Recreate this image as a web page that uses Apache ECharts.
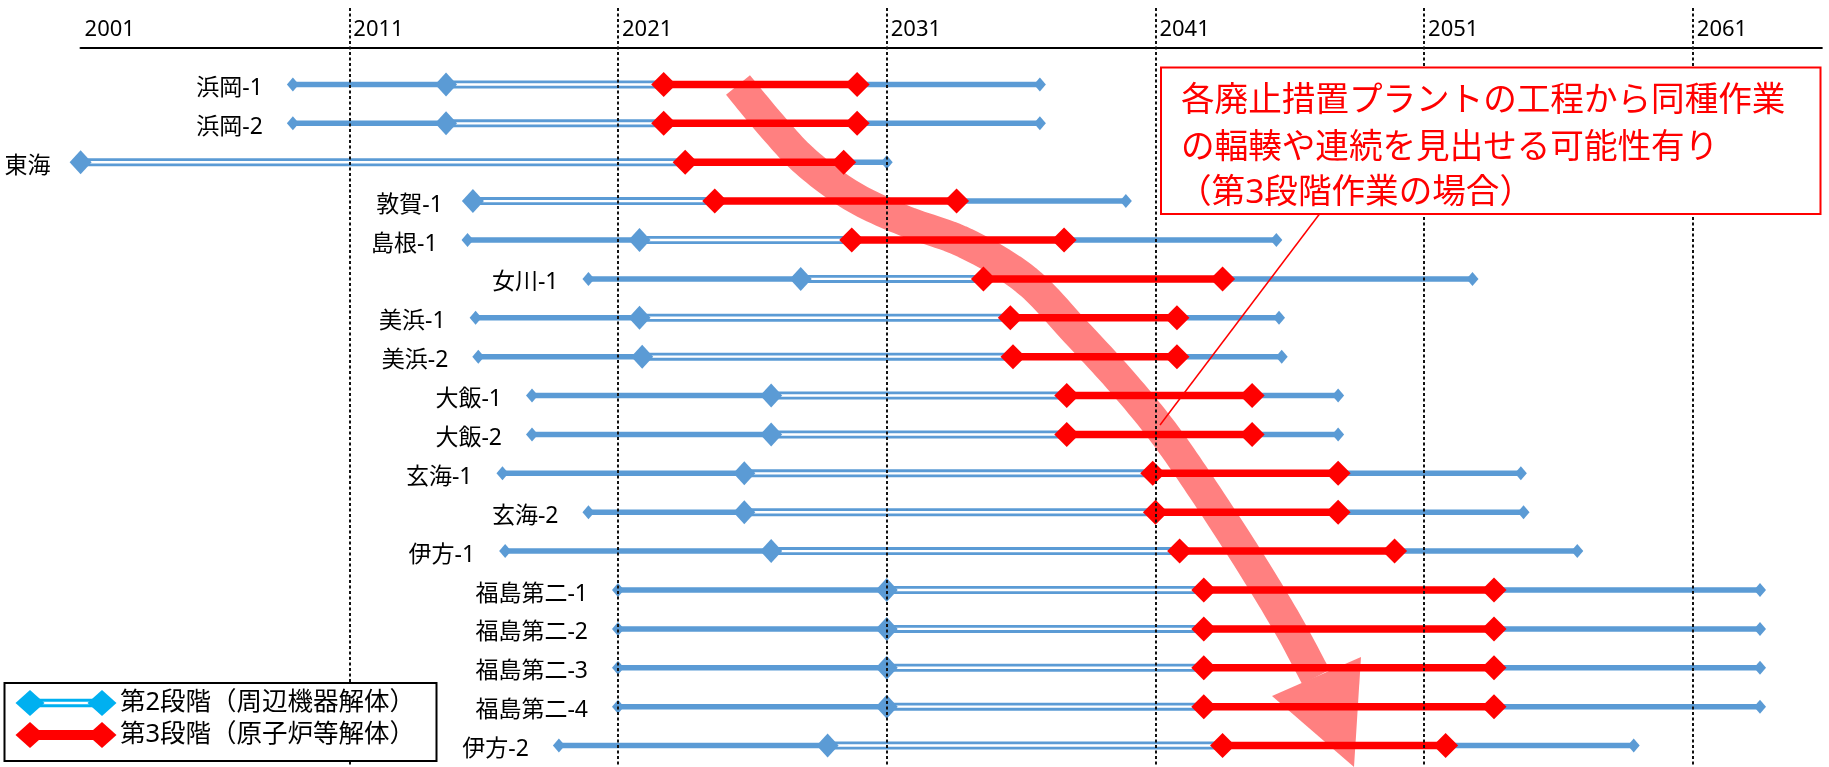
<!DOCTYPE html>
<html>
<head>
<meta charset="utf-8">
<script src="https://cdn.jsdelivr.net/npm/echarts@6/dist/echarts.min.js"></script>
<style>
html, body { margin: 0; padding: 0; background: #fff; }
#chart { width: 1829px; height: 767px; }
</style>
</head>
<body>
<div id="chart"></div>
<script>
// ---- data (years) ----
const plants = ['浜岡-1', '浜岡-2', '東海', '敦賀-1', '島根-1', '女川-1', '美浜-1', '美浜-2', '大飯-1', '大飯-2',
  '玄海-1', '玄海-2', '伊方-1', '福島第二-1', '福島第二-2', '福島第二-3', '福島第二-4', '伊方-2'];
const startYear   = [2008.9, 2008.9, null, null, 2015.4, 2019.9, 2015.7, 2015.8, 2017.8, 2017.8,
  2016.7, 2019.9, 2016.8, 2021.0, 2021.0, 2021.0, 2021.0, 2018.8];
const stage2Start = [2014.6, 2014.6, 2001.0, 2015.6, 2021.8, 2027.8, 2021.8, 2021.9, 2026.7, 2026.7,
  2025.7, 2025.7, 2026.7, 2031.0, 2031.0, 2031.0, 2031.0, 2028.8];
const stage3Start = [2022.7, 2022.7, 2023.5, 2024.6, 2029.7, 2034.6, 2035.6, 2035.7, 2037.7, 2037.7,
  2040.9, 2041.0, 2041.9, 2042.8, 2042.8, 2042.8, 2042.8, 2043.5];
const stage3End   = [2029.9, 2029.9, 2029.4, 2033.6, 2037.6, 2043.5, 2041.8, 2041.8, 2044.6, 2044.6,
  2047.8, 2047.8, 2049.9, 2053.6, 2053.6, 2053.6, 2053.6, 2051.8];
const endYear     = [2036.7, 2036.7, 2031.0, 2039.9, 2045.5, 2052.8, 2045.6, 2045.7, 2047.8, 2047.8,
  2054.6, 2054.7, 2056.7, 2063.5, 2063.5, 2063.5, 2063.5, 2058.8];
const yearTicks = [2001, 2011, 2021, 2031, 2041, 2051, 2061];
const legendLabels = ['第2段階（周辺機器解体）', '第3段階（原子炉等解体）'];
const noteLines = ['各廃止措置プラントの工程から同種作業', 'の輻輳や連続を見出せる可能性有り', '（第3段階作業の場合）'];

// ---- styles ----
const BLUE = '#5B9BD5', RED = '#FF0000', CYAN = '#00B0F0', PINK = '#FF8080';
const X_MIN = 2001, X_MAX = 2065.8;
const FONT = "'Noto Sans', 'Noto Sans CJK JP', sans-serif";

const chart = echarts.init(document.getElementById('chart'), null, { renderer: 'canvas' });

function diamond(cx, cy, w, h, fill) {
  return { type: 'polygon', shape: { points: [[cx - w / 2, cy], [cx, cy - h / 2], [cx + w / 2, cy], [cx, cy + h / 2]] }, style: { fill: fill } };
}
function seg(x1, x2, y, w, color) {
  return { type: 'line', shape: { x1: x1, y1: y, x2: x2, y2: y }, style: { stroke: color, lineWidth: w, lineCap: 'butt' } };
}
function txt(text, x, y, size, color, align) {
  return { type: 'text', style: { text: text, x: x, y: y, font: size + 'px ' + FONT, fill: color,
    align: align, textAlign: align, verticalAlign: 'middle', textVerticalAlign: 'middle' } };
}

function renderItem(params, api) {
  const i = params.dataIndex;
  const y = api.coord([stage2Start[i], i])[1];
  const px = v => api.coord([v, i])[0];
  const s0 = startYear[i], s2 = stage2Start[i], s3 = stage3Start[i], e3 = stage3End[i], e = endYear[i];
  const c = [];
  if (s0 != null) c.push(seg(px(s0), px(s2), y, 5.5, BLUE));
  c.push(seg(px(s2), px(s3), y, 8, BLUE));
  c.push(seg(px(s2), px(s3), y, 2.4, '#fff'));
  c.push(seg(px(e3), px(e), y, 5.5, BLUE));
  c.push(seg(px(s3), px(e3), y, 7.5, RED));
  if (s0 != null) c.push(diamond(px(s0), y, 12, 14, BLUE));
  c.push(diamond(px(e), y, 12, 14, BLUE));
  c.push(diamond(px(s2), y, 22, 24, BLUE));
  c.push(diamond(px(s3), y, 25, 25, RED));
  c.push(diamond(px(e3), y, 25, 25, RED));
  const firstX = px(s0 != null ? s0 : s2);
  c.push(txt(plants[i], firstX - 30, y + 4, 23, '#000', 'right'));
  return { type: 'group', children: c };
}

// pink annotation arrow: guide points, smoothed with Catmull-Rom
const arrowGuide = [[738, 85], [772, 126], [806, 162], [852, 196], [905, 221], [965, 243], [1026, 280],
  [1076, 332], [1122, 382], [1163, 432], [1200, 485], [1247, 557], [1287, 623], [1316, 677]];
function catmull(p) {
  const out = [];
  for (let i = 0; i < p.length - 1; i++) {
    const p0 = p[Math.max(0, i - 1)], p1 = p[i], p2 = p[i + 1], p3 = p[Math.min(p.length - 1, i + 2)];
    for (let k = 0; k < 12; k++) {
      const t = k / 12, t2 = t * t, t3 = t2 * t;
      out.push([0, 1].map(d => 0.5 * ((2 * p1[d]) + (-p0[d] + p2[d]) * t +
        (2 * p0[d] - 5 * p1[d] + 4 * p2[d] - p3[d]) * t2 + (-p0[d] + 3 * p1[d] - 3 * p2[d] + p3[d]) * t3)));
    }
  }
  out.push(p[p.length - 1]);
  return out;
}

const graphics = [
  { type: 'polyline', z: 1, shape: { points: catmull(arrowGuide) },
    style: { stroke: PINK, lineWidth: 31, fill: null, lineCap: 'butt', lineJoin: 'round' } },
  { type: 'polygon', z: 1, shape: { points: [[1272, 696], [1361, 657], [1354, 767]] }, style: { fill: PINK } },
  // callout box
  { type: 'rect', z: 10, shape: { x: 1161, y: 67.5, width: 659.5, height: 146.5 },
    style: { fill: '#fff', stroke: RED, lineWidth: 2 } },
  Object.assign(txt(noteLines[0], 1181, 101, 33.6, RED, 'left'), { z: 11 }),
  Object.assign(txt(noteLines[1], 1181, 148, 33.6, RED, 'left'), { z: 11 }),
  Object.assign(txt(noteLines[2], 1178, 193, 33.6, RED, 'left'), { z: 11 }),
  { type: 'line', z: 11, shape: { x1: 1319.5, y1: 214, x2: 1160, y2: 425 }, style: { stroke: RED, lineWidth: 1.5 } },
  // legend box
  { type: 'rect', z: 10, shape: { x: 4.5, y: 683, width: 432, height: 78 },
    style: { fill: '#fff', stroke: '#000', lineWidth: 2 } },
  Object.assign(seg(30, 102, 703, 8.5, CYAN), { z: 11 }),
  Object.assign(seg(30, 102, 703, 2.4, '#fff'), { z: 11 }),
  Object.assign(diamond(30, 703, 29, 26, CYAN), { z: 12 }),
  Object.assign(diamond(102, 703, 29, 26, CYAN), { z: 12 }),
  Object.assign(txt(legendLabels[0], 120, 703, 25.5, '#000', 'left'), { z: 12 }),
  Object.assign(seg(30, 102, 735, 10, RED), { z: 11 }),
  Object.assign(diamond(30, 735, 29, 26, RED), { z: 12 }),
  Object.assign(diamond(102, 735, 29, 26, RED), { z: 12 }),
  Object.assign(txt(legendLabels[1], 120, 735, 25.5, '#000', 'left'), { z: 12 })
];

const option = {
  animation: false,
  backgroundColor: '#fff',
  grid: [
    { left: 80.6, width: 1741.2, top: 65, height: 700 },
    { left: 80.6, width: 1741.2, top: 8, bottom: 0 }
  ],
  xAxis: [
    { gridIndex: 0, type: 'value', position: 'top', offset: 17, min: X_MIN, max: X_MAX, interval: 10,
      axisLine: { show: true, lineStyle: { color: '#000', width: 2.2 } },
      axisTick: { show: false }, splitLine: { show: false },
      axisLabel: { show: true, color: '#000', fontSize: 22, fontFamily: FONT, align: 'left', verticalAlign: 'middle',
        margin: 18, padding: [0, 0, 0, 4], formatter: v => (yearTicks.indexOf(v) >= 0 ? String(v) : '') } },
    { gridIndex: 1, type: 'value', min: X_MIN, max: X_MAX, interval: 10, z: 5,
      axisLine: { show: false }, axisTick: { show: false }, axisLabel: { show: false },
      splitLine: { show: true, showMinLine: false, showMaxLine: false, lineStyle: { color: '#111', width: 2, type: [3, 2.5] } } }
  ],
  yAxis: [
    { gridIndex: 0, type: 'category', data: plants, inverse: true, show: false },
    { gridIndex: 1, type: 'value', min: 0, max: 1, show: false }
  ],
  series: [
    { type: 'custom', xAxisIndex: 0, yAxisIndex: 0, z: 2, clip: false,
      renderItem: renderItem, encode: { x: 0, y: 1 },
      data: plants.map((p, i) => [stage2Start[i], i]) },
    { type: 'line', xAxisIndex: 1, yAxisIndex: 1, data: [], silent: true }
  ],
  graphic: graphics
};
chart.setOption(option);
</script>
</body>
</html>
